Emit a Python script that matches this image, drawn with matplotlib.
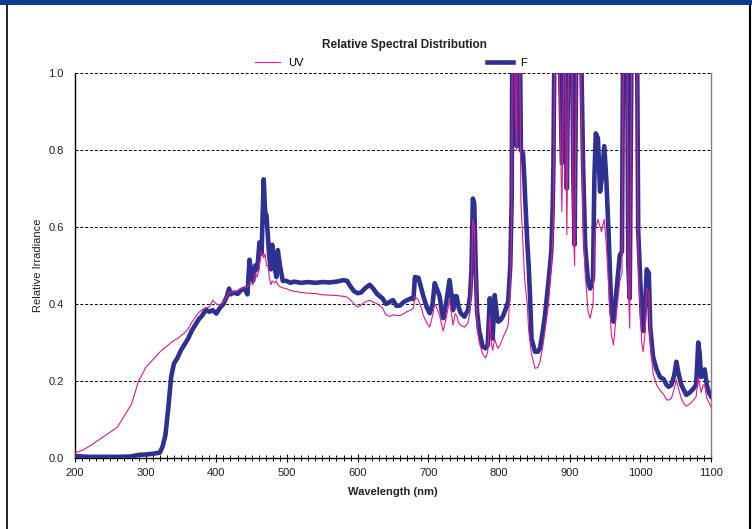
import matplotlib
matplotlib.use("Agg")
import matplotlib.pyplot as plt
from matplotlib.lines import Line2D
from matplotlib.patches import Rectangle
from matplotlib.ticker import MultipleLocator

plt.rcParams['font.family'] = ['Liberation Sans', 'DejaVu Sans']

# Wavelength samples (nm)
wavelength = [
    200, 210, 220, 240, 260, 280, 290, 300, 310, 320,
    324, 328, 332, 336, 340, 345, 350, 355, 360, 365,
    370, 375, 380, 385, 390, 395, 400, 405, 410, 415,
    418, 420, 425, 430, 435, 440, 444, 447, 450, 452,
    455, 458, 461, 464, 467, 469, 471, 473, 475, 477,
    479, 482, 485, 487, 490, 494, 499, 505, 510, 520,
    530, 540, 550, 560, 570, 580, 585, 590, 595, 600,
    605, 610, 617, 622, 628, 635, 640, 645, 650, 655,
    660, 665, 670, 676, 679, 681, 686, 690, 693, 698,
    702, 706, 709, 712, 716, 719, 721, 725, 730, 733,
    735, 738, 740, 743, 746, 751, 756, 759, 761, 763,
    765, 767, 769, 772, 777, 781, 784, 787, 789, 791,
    794, 797, 799, 803, 806, 810, 813, 816, 818, 819,
    821, 823, 825, 826, 829, 831, 834, 836, 837, 840,
    842, 844, 846, 851, 855, 858, 862, 865, 870, 874,
    876, 877, 879, 884, 889, 892, 894, 896, 899, 903,
    905, 907, 910, 915, 919, 922, 926, 929, 933, 935,
    937, 940, 943, 945, 949, 952, 955, 957, 959, 962,
    967, 971, 974, 976, 981, 983, 985, 988, 995, 997,
    1002, 1004, 1007, 1009, 1012, 1014, 1018, 1023, 1028, 1033,
    1037, 1040, 1044, 1048, 1051, 1054, 1058, 1062, 1065, 1070,
    1075, 1079, 1082, 1084, 1086, 1089, 1091, 1094, 1097, 1100,
]

# relative irradiance, UV lamp
uv = [
    0.013, 0.02, 0.03, 0.055, 0.08, 0.14, 0.20, 0.235, 0.255, 0.275,
    0.282, 0.288, 0.293, 0.30, 0.305, 0.31, 0.318, 0.325, 0.335, 0.352,
    0.365, 0.378, 0.385, 0.39, 0.392, 0.41, 0.40, 0.398, 0.405, 0.42,
    0.43, 0.43, 0.432, 0.435, 0.44, 0.442, 0.445, 0.45, 0.455, 0.45,
    0.48, 0.47, 0.50, 0.536, 0.52, 0.53, 0.50, 0.50, 0.47, 0.45,
    0.46, 0.455, 0.46, 0.45, 0.445, 0.442, 0.44, 0.435, 0.433, 0.43,
    0.428, 0.427, 0.424, 0.423, 0.422, 0.42, 0.418, 0.41, 0.40, 0.392,
    0.397, 0.405, 0.41, 0.405, 0.40, 0.39, 0.372, 0.368, 0.372, 0.37,
    0.37, 0.375, 0.38, 0.385, 0.39, 0.42, 0.41, 0.39, 0.37, 0.35,
    0.34, 0.37, 0.40, 0.39, 0.37, 0.345, 0.33, 0.36, 0.41, 0.37,
    0.345, 0.375, 0.37, 0.35, 0.345, 0.34, 0.35, 0.38, 0.45, 0.62,
    0.60, 0.46, 0.34, 0.30, 0.27, 0.26, 0.275, 0.37, 0.30, 0.28,
    0.31, 0.29, 0.285, 0.30, 0.315, 0.33, 0.345, 0.45, 0.62, 1.15,
    1.15, 0.95, 0.80, 1.1, 1.1, 0.666, 0.55, 0.475, 0.45, 0.40,
    0.33, 0.30, 0.27, 0.233, 0.235, 0.25, 0.29, 0.33, 0.40, 0.50,
    0.57, 0.62, 1.1, 1.1, 0.64, 1.1, 1.0, 0.58, 1.1, 1.1,
    0.60, 0.50, 1.1, 1.1, 0.60, 0.48, 0.38, 0.363, 0.40, 0.55,
    0.60, 0.62, 0.60, 0.588, 0.62, 0.55, 0.45, 0.38, 0.32, 0.294,
    0.39, 0.46, 0.48, 1.1, 1.1, 0.45, 0.337, 1.1, 1.1, 0.50,
    0.30, 0.276, 0.33, 0.44, 0.43, 0.30, 0.22, 0.19, 0.175, 0.165,
    0.152, 0.15, 0.155, 0.18, 0.203, 0.18, 0.155, 0.14, 0.135, 0.14,
    0.15, 0.16, 0.21, 0.19, 0.17, 0.19, 0.19, 0.155, 0.145, 0.133,
]

# relative irradiance, F lamp
f_lamp = [
    0.005, 0.004, 0.003, 0.003, 0.003, 0.004, 0.008, 0.009, 0.011, 0.014,
    0.03, 0.06, 0.13, 0.21, 0.245, 0.26, 0.28, 0.295, 0.31, 0.33,
    0.345, 0.36, 0.37, 0.385, 0.38, 0.384, 0.375, 0.39, 0.40, 0.42,
    0.44, 0.425, 0.43, 0.426, 0.436, 0.44, 0.425, 0.515, 0.47, 0.46,
    0.50, 0.49, 0.56, 0.53, 0.724, 0.64, 0.63, 0.575, 0.52, 0.49,
    0.554, 0.50, 0.47, 0.54, 0.50, 0.46, 0.46, 0.455, 0.458, 0.455,
    0.457, 0.455, 0.457, 0.456, 0.458, 0.462, 0.46, 0.445, 0.433, 0.428,
    0.43, 0.44, 0.45, 0.44, 0.425, 0.415, 0.40, 0.405, 0.41, 0.395,
    0.396, 0.405, 0.41, 0.415, 0.413, 0.47, 0.468, 0.44, 0.42, 0.39,
    0.376, 0.40, 0.454, 0.44, 0.42, 0.38, 0.363, 0.40, 0.462, 0.42,
    0.384, 0.42, 0.42, 0.39, 0.376, 0.367, 0.384, 0.42, 0.488, 0.674,
    0.66, 0.50, 0.38, 0.33, 0.289, 0.285, 0.293, 0.415, 0.36, 0.31,
    0.423, 0.37, 0.354, 0.36, 0.37, 0.39, 0.406, 0.50, 0.675, 1.2,
    1.2, 1.0, 0.81, 1.2, 1.2, 0.8, 0.79, 0.72, 0.675, 0.56,
    0.50, 0.415, 0.31, 0.276, 0.276, 0.285, 0.33, 0.37, 0.458, 0.536,
    0.65, 0.76, 1.2, 1.25, 0.766, 1.2, 1.2, 0.70, 1.2, 1.2,
    0.75, 0.554, 1.2, 1.2, 0.76, 0.55, 0.458, 0.44, 0.466, 0.73,
    0.843, 0.83, 0.692, 0.72, 0.81, 0.718, 0.588, 0.484, 0.38, 0.354,
    0.45, 0.527, 0.536, 1.2, 1.2, 0.50, 0.415, 1.2, 1.2, 0.588,
    0.37, 0.33, 0.40, 0.49, 0.48, 0.34, 0.263, 0.23, 0.21, 0.205,
    0.19, 0.185, 0.19, 0.215, 0.25, 0.22, 0.19, 0.175, 0.164, 0.17,
    0.18, 0.19, 0.30, 0.27, 0.21, 0.22, 0.23, 0.19, 0.17, 0.16,
]

assert len(wavelength) == len(uv) == len(f_lamp)

W, H = 752, 529
fig = plt.figure(figsize=(W / 100, H / 100), dpi=100)
fig.patch.set_facecolor('white')

# dark blue header strip and side frame lines
fig.patches.append(Rectangle((0, 1 - 5 / H), 1, 5 / H, transform=fig.transFigure,
                             facecolor='#0e3d8f', edgecolor='none'))
fig.lines.append(Line2D([6.5 / W, 6.5 / W], [0, 1 - 5 / H], transform=fig.transFigure,
                        color='black', linewidth=1.2))
fig.lines.append(Line2D([750 / W, 750 / W], [0, 1 - 5 / H], transform=fig.transFigure,
                        color='black', linewidth=1.5))

ax = fig.add_axes([75 / W, 71 / H, 636 / W, 385 / H])

blue = '#2e3192'
pink = '#e8198b'
f_line, = ax.plot(wavelength, f_lamp, color=blue, linewidth=3.3, label='F', zorder=3)
uv_line, = ax.plot(wavelength, uv, color=pink, linewidth=0.8, label='UV', zorder=4)

ax.set_xlim(200, 1100)
ax.set_ylim(0, 1.0)
ax.xaxis.set_major_locator(MultipleLocator(100))
ax.xaxis.set_minor_locator(MultipleLocator(10))
ax.yaxis.set_major_locator(MultipleLocator(0.2))
ax.yaxis.set_major_formatter(plt.FuncFormatter(lambda v, p: f'{v:.1f}'))

ax.tick_params(axis='x', which='major', direction='inout', length=6, width=0.8,
               labelsize=8, pad=4, colors='black', labelcolor='#222222')
ax.tick_params(axis='x', which='minor', direction='inout', length=5, width=0.7)
ax.tick_params(axis='y', length=0, labelsize=8, pad=8, labelcolor='#222222')

ax.grid(axis='y', color='black', linestyle=(0, (3, 2)), linewidth=0.7)
ax.set_axisbelow(True)

ax.spines['top'].set_visible(False)
ax.spines['right'].set_color('#808080')
ax.spines['right'].set_linewidth(1.0)
ax.spines['left'].set_linewidth(1.0)
ax.spines['bottom'].set_linewidth(1.0)

fig.text(404 / W, 1 - 45 / H, 'Relative Spectral Distribution', ha='center', va='center',
         fontsize=8.5, fontweight='bold', color='#222222')
fig.text(393 / W, 1 - 492 / H, 'Wavelength (nm)', ha='center', va='center',
         fontsize=8, fontweight='bold', color='#222222')
fig.text(38 / W, 1 - 265 / H, 'Relative Irradiance', ha='center', va='center',
         rotation=90, fontsize=8, color='#222222')

fig.legend([uv_line, f_line], ['UV', 'F'], loc='center', ncol=2,
           bbox_to_anchor=(391 / W, 1 - 63 / H), frameon=False, fontsize=8,
           handlelength=2.3, handletextpad=0.7, columnspacing=16.5,
           borderpad=0, borderaxespad=0)

fig.savefig('out.png', dpi=100)
